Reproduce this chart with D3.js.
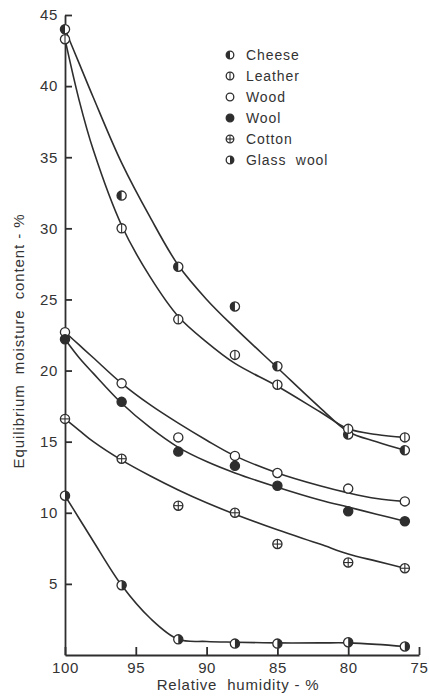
<!DOCTYPE html>
<html>
<head>
<meta charset="utf-8">
<script src="https://cdn.jsdelivr.net/npm/d3@7"></script>
<style>
  html, body { margin: 0; padding: 0; background: #fff; }
  svg { display: block; }
  text { font-family: "Liberation Sans", Arial, sans-serif; fill: #333; }
</style>
</head>
<body>
<svg id="chart" width="429" height="699"></svg>
<script>
// measured points (relative humidity %, moisture content %)
const rhPoints = [100, 96, 92, 88, 85, 80, 76];
const cheeseValues = [44.0, 32.3, 27.3, 24.5, 20.3, 15.5, 14.4];
const leatherValues = [43.3, 30.0, 23.6, 21.1, 19.0, 15.9, 15.3];
const woodValues = [22.7, 19.1, 15.3, 14.0, 12.8, 11.7, 10.8];
const woolValues = [22.2, 17.8, 14.3, 13.3, 11.9, 10.1, 9.4];
const cottonValues = [16.6, 13.8, 10.5, 10.0, 7.8, 6.5, 6.1];
const glassWoolValues = [11.2, 4.9, 1.1, 0.8, 0.8, 0.9, 0.6];

// fitted curves
const curveRh = [100, 99, 98, 96, 94, 92, 90, 88, 85, 82, 80, 78, 76];
const cheeseCurve = [44.0, 41.6, 39.2, 34.6, 30.8, 27.4, 25.0, 23.0, 20.2, 17.4, 15.7, 15.0, 14.4];
const leatherCurve = [43.3, 39.0, 35.5, 30.2, 26.6, 23.8, 22.0, 20.5, 18.9, 17.1, 15.9, 15.5, 15.3];
const woodCurve = [22.7, 21.8, 20.9, 19.1, 17.6, 16.3, 15.1, 14.0, 12.8, 11.9, 11.4, 11.0, 10.8];
const woolCurve = [22.2, 20.9, 19.8, 17.7, 16.0, 14.6, 13.6, 12.8, 11.8, 10.9, 10.4, 9.9, 9.4];
const cottonCurve = [16.6, 15.8, 15.0, 13.7, 12.6, 11.6, 10.7, 9.9, 8.8, 7.8, 7.1, 6.6, 6.1];
const glassWoolCurve = [11.2, 9.6, 8.0, 4.9, 2.6, 1.1, 0.95, 0.9, 0.85, 0.85, 0.85, 0.75, 0.6];

const materials = ["Cheese", "Leather", "Wood", "Wool", "Cotton", "Glass  wool"];
const xTicks = [100, 95, 90, 85, 80, 75];
const yTicks = [5, 10, 15, 20, 25, 30, 35, 40, 45];

const series = [
  { name: materials[0], marker: "halfLeft", points: cheeseValues, curve: cheeseCurve },
  { name: materials[1], marker: "bar", points: leatherValues, curve: leatherCurve },
  { name: materials[2], marker: "open", points: woodValues, curve: woodCurve },
  { name: materials[3], marker: "filled", points: woolValues, curve: woolCurve },
  { name: materials[4], marker: "cross", points: cottonValues, curve: cottonCurve },
  { name: materials[5], marker: "halfRight", points: glassWoolValues, curve: glassWoolCurve }
];

const ink = "#2e2e2e";
const svg = d3.select("#chart");
const x = d3.scaleLinear().domain([100, 75]).range([65, 419]);
const y = d3.scaleLinear().domain([0, 45]).range([655, 15]);

function drawMarker(g, type, cx, cy, r) {
  const m = g.append("g").attr("transform", `translate(${cx},${cy})`);
  const fill = type === "filled" ? ink : "#fff";
  m.append("circle").attr("r", r).attr("fill", fill).attr("stroke", ink).attr("stroke-width", 1.3);
  if (type === "halfLeft" || type === "halfRight") {
    const s = type === "halfLeft" ? 0 : 1;
    m.append("path")
      .attr("d", `M0,${-r} A${r},${r} 0 0,${s} 0,${r} Z`)
      .attr("fill", ink);
  }
  if (type === "bar" || type === "cross") {
    m.append("line").attr("x1", 0).attr("x2", 0).attr("y1", -r).attr("y2", r).attr("stroke", ink).attr("stroke-width", 1.1);
  }
  if (type === "cross") {
    m.append("line").attr("x1", -r).attr("x2", r).attr("y1", 0).attr("y2", 0).attr("stroke", ink).attr("stroke-width", 1.1);
  }
}

// axes
const yAxis = svg.append("g")
  .attr("transform", `translate(${x(100)},0)`)
  .call(d3.axisLeft(y).tickValues(yTicks).tickSize(-7).tickSizeOuter(0).tickPadding(7));
const xAxis = svg.append("g")
  .attr("transform", `translate(0,${y(0)})`)
  .call(d3.axisBottom(x).tickValues(xTicks).tickSize(-8).tickSizeOuter(0).tickPadding(7));
[yAxis, xAxis].forEach((axis) => {
  axis.selectAll("path,line").attr("stroke", ink).attr("stroke-width", 1.8);
  axis.selectAll("text")
    .attr("fill", "#333")
    .style("font-family", "'Liberation Sans', Arial, sans-serif")
    .style("font-size", "15px")
    .style("letter-spacing", "0.6px");
});

// curves
const line = d3.line()
  .x((d) => x(d[0]))
  .y((d) => y(d[1]))
  .curve(d3.curveCatmullRom.alpha(0.5));
series.forEach((s) => {
  svg.append("path")
    .attr("d", line(curveRh.map((rh, i) => [rh, s.curve[i]])))
    .attr("fill", "none")
    .attr("stroke", ink)
    .attr("stroke-width", 1.6);
});

// points
const pointLayer = svg.append("g");
series.forEach((s) => {
  s.points.forEach((v, i) => drawMarker(pointLayer, s.marker, x(rhPoints[i]), y(v), 4.6));
});

// legend
const legend = svg.append("g").attr("transform", "translate(230,55)");
series.forEach((s, i) => {
  drawMarker(legend, s.marker, 0, i * 21, 3.8);
  legend.append("text")
    .attr("x", 16)
    .attr("y", i * 21 + 5)
    .style("font-size", "14px")
    .style("letter-spacing", "0.9px")
    .style("white-space", "pre")
    .text(s.name);
});

// axis titles
svg.append("text")
  .attr("x", 238)
  .attr("y", 690)
  .attr("text-anchor", "middle")
  .style("font-size", "15px")
  .style("letter-spacing", "0.8px")
  .style("white-space", "pre")
  .text("Relative  humidity - %");

svg.append("text")
  .attr("transform", "translate(24,341) rotate(-90)")
  .attr("text-anchor", "middle")
  .style("font-size", "15px")
  .style("letter-spacing", "0.9px")
  .style("white-space", "pre")
  .text("Equilibrium  moisture  content - %");
</script>
</body>
</html>
